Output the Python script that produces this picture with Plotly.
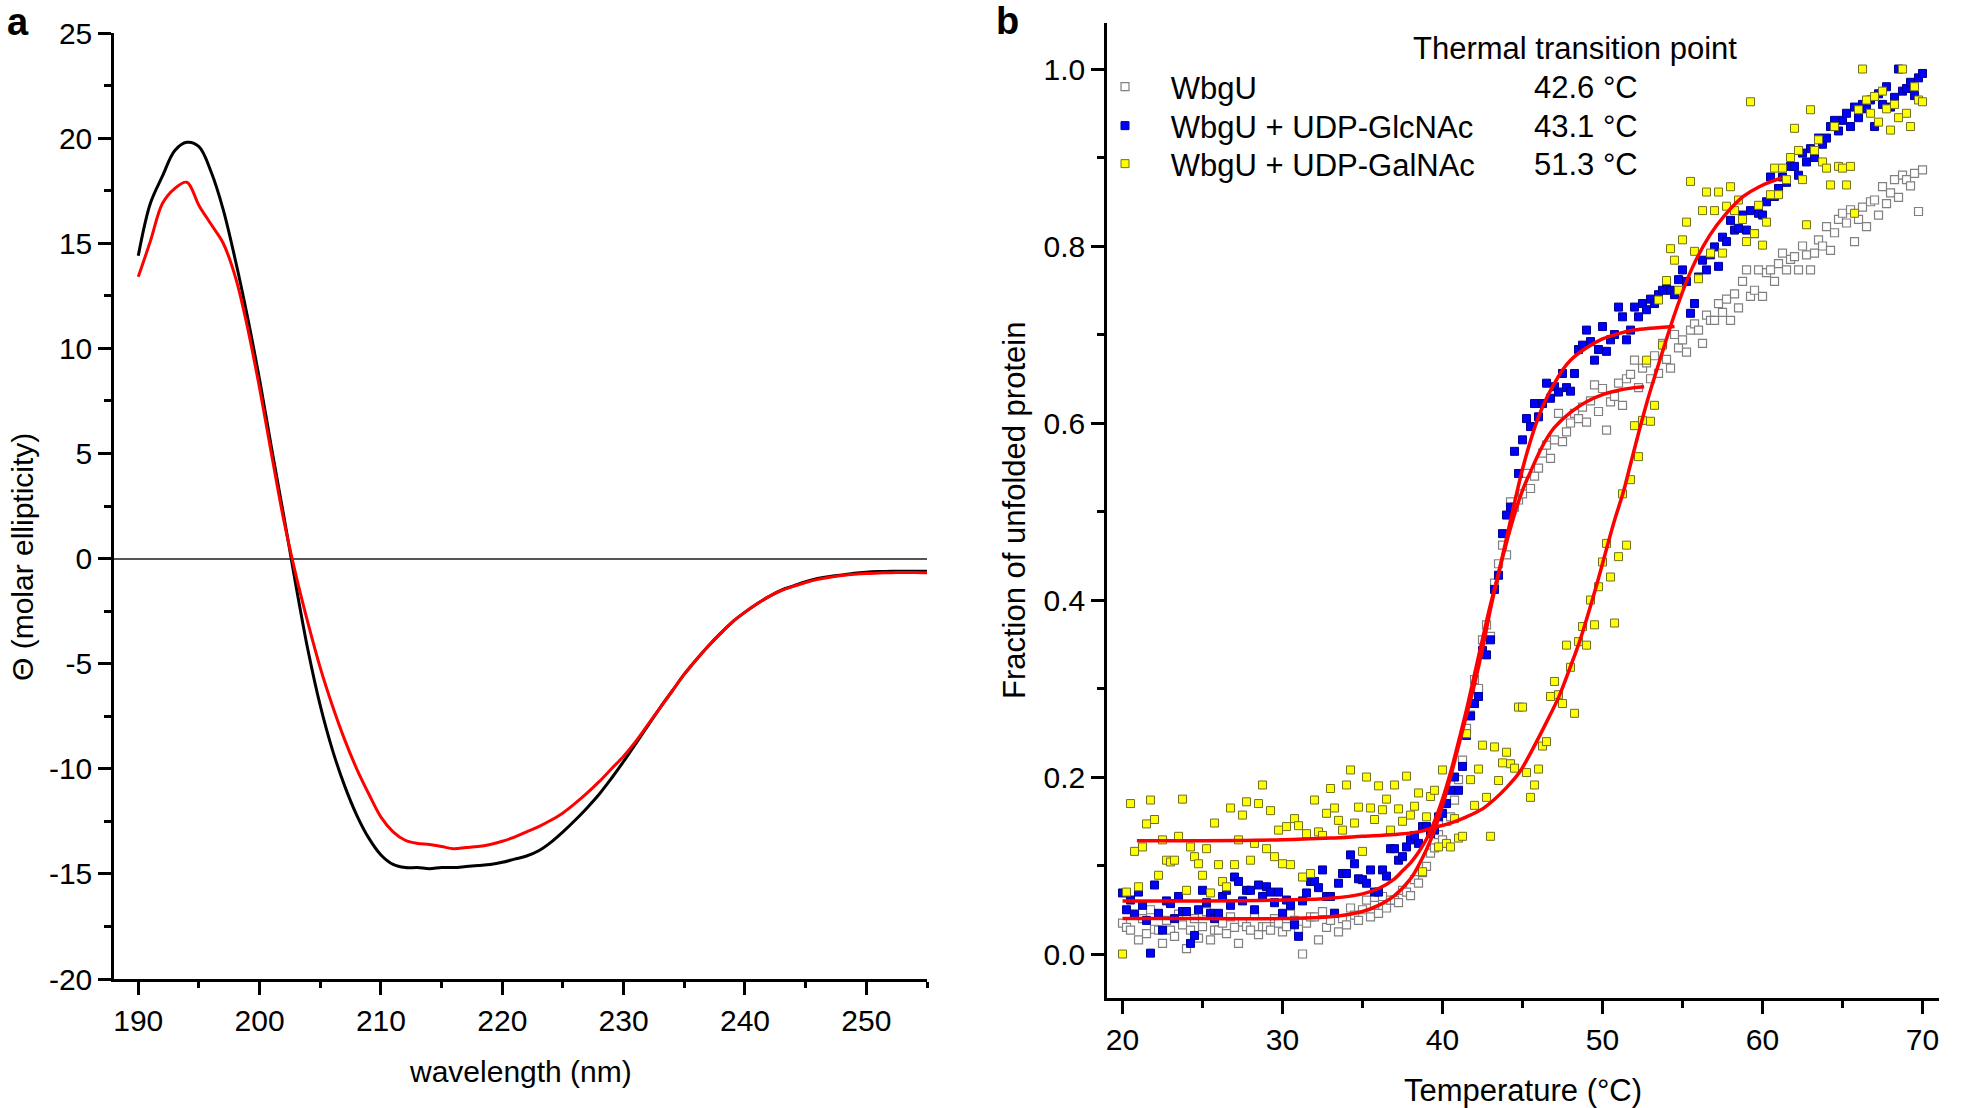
import plotly.graph_objects as go

FONT = "Liberation Sans, Arial, sans-serif"
TICKFONT = "Liberation Sans Narrow, Arial Narrow, Liberation Sans, Arial, sans-serif"
W, H = 1961, 1108

# ---------------- Panel a: CD spectra ----------------
WAVELENGTH = [190, 191, 192, 193, 194, 195, 196, 197, 198, 199,
              200, 201, 202, 203, 204, 205, 206, 207, 208, 209,
              210, 211, 212, 213, 214, 215, 216, 217, 218, 219,
              220, 221, 222, 223, 224, 225, 226, 227, 228, 229,
              230, 231, 232, 233, 234, 235, 236, 237, 238, 239,
              240, 241, 242, 243, 244, 245, 246, 247, 248, 249,
              250, 251, 252, 253, 254, 255]
CD_BLACK = [14.4, 16.9, 18.2, 19.4, 19.8, 19.6, 18.4, 16.6, 14.2, 11.5,
            8.5, 5.2, 2.0, -1.3, -4.4, -7.0, -9.1, -10.8, -12.2, -13.3,
            -14.1, -14.55, -14.7, -14.7, -14.75, -14.7, -14.7, -14.65, -14.6, -14.55,
            -14.45, -14.3, -14.15, -13.9, -13.5, -13.0, -12.45, -11.85, -11.2, -10.45,
            -9.65, -8.8, -7.95, -7.1, -6.3, -5.5, -4.8, -4.15, -3.55, -3.0,
            -2.55, -2.15, -1.8, -1.5, -1.3, -1.1, -0.95, -0.85, -0.78, -0.7,
            -0.65, -0.62, -0.6, -0.6, -0.6, -0.6]
CD_RED = [13.4, 15.1, 16.9, 17.6, 17.9, 16.8, 15.9, 15.0, 13.4, 11.0,
          8.1, 4.9, 1.8, -0.8, -3.1, -5.2, -7.0, -8.6, -10.0, -11.2,
          -12.3, -13.0, -13.4, -13.55, -13.6, -13.7, -13.8, -13.75, -13.7, -13.6,
          -13.45, -13.25, -13.0, -12.75, -12.45, -12.1, -11.65, -11.15, -10.6, -10.0,
          -9.4, -8.7, -7.9, -7.1, -6.3, -5.5, -4.8, -4.15, -3.55, -3.0,
          -2.55, -2.15, -1.8, -1.52, -1.32, -1.14, -0.99, -0.89, -0.81, -0.75,
          -0.71, -0.69, -0.67, -0.66, -0.66, -0.67]
A_YTICKS = [-20, -15, -10, -5, 0, 5, 10, 15, 20, 25]
A_YTICKTEXT = ["-20", "-15", "-10", "-5", "0", "5", "10", "15", "20", "25"]
A_YMINOR = [-17.5, -12.5, -7.5, -2.5, 2.5, 7.5, 12.5, 17.5, 22.5]
A_XTICKS = [190, 200, 210, 220, 230, 240, 250]
A_XMINOR = [195, 205, 215, 225, 235, 245, 255]

# ---------------- Panel b: thermal unfolding ----------------
TEMP = [20.0, 20.25, 20.5, 20.75, 21.0, 21.25, 21.5, 21.75, 22.0, 22.25, 22.5, 22.75,
        23.0, 23.25, 23.5, 23.75, 24.0, 24.25, 24.5, 24.75, 25.0, 25.25, 25.5, 25.75,
        26.0, 26.25, 26.5, 26.75, 27.0, 27.25, 27.5, 27.75, 28.0, 28.25, 28.5, 28.75,
        29.0, 29.25, 29.5, 29.75, 30.0, 30.25, 30.5, 30.75, 31.0, 31.25, 31.5, 31.75,
        32.0, 32.25, 32.5, 32.75, 33.0, 33.25, 33.5, 33.75, 34.0, 34.25, 34.5, 34.75,
        35.0, 35.25, 35.5, 35.75, 36.0, 36.25, 36.5, 36.75, 37.0, 37.25, 37.5, 37.75,
        38.0, 38.25, 38.5, 38.75, 39.0, 39.25, 39.5, 39.75, 40.0, 40.25, 40.5, 40.75,
        41.0, 41.25, 41.5, 41.75, 42.0, 42.25, 42.5, 42.75, 43.0, 43.25, 43.5, 43.75,
        44.0, 44.25, 44.5, 44.75, 45.0, 45.25, 45.5, 45.75, 46.0, 46.25, 46.5, 46.75,
        47.0, 47.25, 47.5, 47.75, 48.0, 48.25, 48.5, 48.75, 49.0, 49.25, 49.5, 49.75,
        50.0, 50.25, 50.5, 50.75, 51.0, 51.25, 51.5, 51.75, 52.0, 52.25, 52.5, 52.75,
        53.0, 53.25, 53.5, 53.75, 54.0, 54.25, 54.5, 54.75, 55.0, 55.25, 55.5, 55.75,
        56.0, 56.25, 56.5, 56.75, 57.0, 57.25, 57.5, 57.75, 58.0, 58.25, 58.5, 58.75,
        59.0, 59.25, 59.5, 59.75, 60.0, 60.25, 60.5, 60.75, 61.0, 61.25, 61.5, 61.75,
        62.0, 62.25, 62.5, 62.75, 63.0, 63.25, 63.5, 63.75, 64.0, 64.25, 64.5, 64.75,
        65.0, 65.25, 65.5, 65.75, 66.0, 66.25, 66.5, 66.75, 67.0, 67.25, 67.5, 67.75,
        68.0, 68.25, 68.5, 68.75, 69.0, 69.25, 69.5, 69.75, 70.0]

WBGU = [0.035, 0.030, 0.027, 0.045, 0.016, 0.040, 0.023, 0.050, 0.028, 0.027, 0.012, 0.038,
        0.027, 0.020, 0.045, 0.033, 0.006, 0.027, 0.040, 0.018, 0.031, 0.048, 0.016, 0.027,
        0.027, 0.035, 0.023, 0.042, 0.030, 0.012, 0.036, 0.031, 0.027, 0.044, 0.022, 0.031,
        0.031, 0.027, 0.040, 0.035, 0.025, 0.031, 0.045, 0.038, 0.028, 0.000, 0.035, 0.042,
        0.042, 0.016, 0.048, 0.030, 0.038, 0.046, 0.025, 0.040, 0.033, 0.052, 0.044, 0.038,
        0.050, 0.061, 0.042, 0.055, 0.046, 0.065, 0.052, 0.061, 0.061, 0.058, 0.072, 0.070,
        0.066, 0.084, 0.080, 0.092, 0.099, 0.114, 0.120, 0.135, 0.129, 0.150, 0.155, 0.174,
        0.197, 0.219, 0.255, 0.270, 0.310, 0.300, 0.355, 0.372, 0.359, 0.419, 0.441, 0.462,
        0.451, 0.511, 0.505, 0.513, 0.520, 0.543, 0.526, 0.540, 0.549, 0.566, 0.575, 0.560,
        0.581, 0.611, 0.579, 0.590, 0.600, 0.611, 0.605, 0.618, 0.601, 0.625, 0.643, 0.613,
        0.639, 0.592, 0.624, 0.630, 0.645, 0.620, 0.650, 0.655, 0.671, 0.640, 0.662, 0.668,
        0.650, 0.676, 0.656, 0.690, 0.672, 0.662, 0.700, 0.685, 0.694, 0.680, 0.705, 0.712,
        0.705, 0.690, 0.722, 0.716, 0.716, 0.735, 0.725, 0.740, 0.716, 0.746, 0.730, 0.760,
        0.773, 0.743, 0.750, 0.773, 0.743, 0.770, 0.773, 0.760, 0.780, 0.792, 0.773, 0.785,
        0.788, 0.773, 0.800, 0.790, 0.773, 0.792, 0.807, 0.800, 0.822, 0.795, 0.815, 0.830,
        0.837, 0.826, 0.841, 0.805, 0.830, 0.844, 0.822, 0.850, 0.852, 0.835, 0.867, 0.848,
        0.860, 0.875, 0.855, 0.880, 0.875, 0.868, 0.882, 0.839, 0.886]

GLCNAC = [0.069, 0.050, 0.061, 0.045, 0.070, 0.055, 0.038, 0.001, 0.078, 0.046, 0.027, 0.060,
          0.057, 0.040, 0.065, 0.048, 0.048, 0.012, 0.021, 0.050, 0.072, 0.058, 0.046, 0.040,
          0.046, 0.065, 0.072, 0.055, 0.087, 0.082, 0.060, 0.072, 0.072, 0.050, 0.078, 0.065,
          0.076, 0.070, 0.058, 0.070, 0.046, 0.061, 0.055, 0.033, 0.020, 0.060, 0.069, 0.082,
          0.082, 0.075, 0.095, 0.065, 0.065, 0.046, 0.080, 0.091, 0.091, 0.112, 0.102, 0.085,
          0.084, 0.080, 0.095, 0.070, 0.070, 0.095, 0.088, 0.119, 0.119, 0.106, 0.110, 0.121,
          0.129, 0.134, 0.125, 0.144, 0.144, 0.136, 0.140, 0.155, 0.159, 0.170, 0.185, 0.200,
          0.185, 0.212, 0.247, 0.269, 0.283, 0.291, 0.343, 0.338, 0.355, 0.412, 0.428, 0.475,
          0.496, 0.505, 0.568, 0.543, 0.581, 0.605, 0.596, 0.622, 0.607, 0.622, 0.645, 0.628,
          0.641, 0.635, 0.656, 0.640, 0.636, 0.656, 0.683, 0.688, 0.705, 0.692, 0.671, 0.683,
          0.709, 0.681, 0.694, 0.700, 0.731, 0.720, 0.694, 0.705, 0.731, 0.720, 0.735, 0.728,
          0.740, 0.735, 0.745, 0.750, 0.757, 0.750, 0.745, 0.762, 0.773, 0.760, 0.724, 0.735,
          0.765, 0.784, 0.773, 0.790, 0.799, 0.777, 0.810, 0.805, 0.829, 0.818, 0.820, 0.835,
          0.818, 0.840, 0.814, 0.837, 0.835, 0.850, 0.878, 0.856, 0.865, 0.878, 0.872, 0.890,
          0.890, 0.880, 0.905, 0.895, 0.910, 0.900, 0.922, 0.915, 0.922, 0.935, 0.942, 0.930,
          0.942, 0.950, 0.935, 0.957, 0.945, 0.960, 0.955, 0.965, 0.935, 0.972, 0.960, 0.980,
          0.957, 0.968, 1.000, 0.975, 0.978, 0.985, 0.970, 0.990, 0.995]

GALNAC = [0.000, 0.070, 0.170, 0.116, 0.076, 0.121, 0.147, 0.174, 0.152, 0.089, 0.129, 0.106,
          0.104, 0.106, 0.133, 0.175, 0.072, 0.121, 0.110, 0.102, 0.089, 0.119, 0.069, 0.148,
          0.101, 0.082, 0.076, 0.165, 0.101, 0.129, 0.157, 0.172, 0.106, 0.125, 0.170, 0.191,
          0.119, 0.162, 0.110, 0.140, 0.102, 0.144, 0.101, 0.153, 0.145, 0.087, 0.136, 0.091,
          0.174, 0.138, 0.134, 0.159, 0.187, 0.165, 0.151, 0.140, 0.191, 0.208, 0.148, 0.166,
          0.116, 0.200, 0.165, 0.152, 0.190, 0.163, 0.175, 0.140, 0.191, 0.164, 0.150, 0.201,
          0.157, 0.167, 0.182, 0.093, 0.155, 0.178, 0.185, 0.121, 0.208, 0.125, 0.121, 0.153,
          0.131, 0.133, 0.249, 0.197, 0.168, 0.209, 0.236, 0.177, 0.133, 0.234, 0.196, 0.216,
          0.228, 0.215, 0.210, 0.279, 0.279, 0.205, 0.177, 0.191, 0.209, 0.235, 0.240, 0.291,
          0.308, 0.293, 0.283, 0.349, 0.324, 0.272, 0.353, 0.370, 0.349, 0.400, 0.372, 0.415,
          0.443, 0.464, 0.426, 0.374, 0.449, 0.520, 0.462, 0.536, 0.597, 0.562, 0.603, 0.671,
          0.602, 0.620, 0.739, 0.688, 0.761, 0.797, 0.784, 0.750, 0.807, 0.827, 0.873, 0.794,
          0.763, 0.840, 0.861, 0.792, 0.840, 0.861, 0.792, 0.845, 0.867, 0.840, 0.852, 0.830,
          0.805, 0.963, 0.814, 0.846, 0.801, 0.827, 0.858, 0.888, 0.858, 0.888, 0.875, 0.900,
          0.933, 0.908, 0.875, 0.824, 0.954, 0.908, 0.920, 0.895, 0.888, 0.869, 0.935, 0.890,
          0.888, 0.869, 0.890, 0.837, 0.954, 1.000, 0.965, 0.950, 0.969, 0.940, 0.975, 0.955,
          0.931, 0.960, 0.945, 1.000, 0.950, 0.935, 0.980, 0.965, 0.963]

FIT_WBGU_T = [20, 25, 30, 33, 35, 36, 37, 38, 38.5, 39, 39.5, 40, 40.5, 41, 41.5, 42, 42.5,
              43, 43.5, 44, 44.5, 45, 45.5, 46, 46.5, 47, 48, 49, 50, 51, 52, 52.6]
FIT_WBGU_V = [0.040, 0.040, 0.040, 0.042, 0.048, 0.055, 0.066, 0.085, 0.100, 0.118, 0.140,
              0.168, 0.200, 0.235, 0.270, 0.305, 0.345, 0.390, 0.430, 0.465, 0.497, 0.524,
              0.545, 0.565, 0.582, 0.595, 0.612, 0.624, 0.632, 0.637, 0.640, 0.641]
FIT_GLC_T = [20, 25, 30, 33, 35, 36, 37, 37.5, 38, 38.5, 39, 39.5, 40, 40.5, 41, 41.5, 42,
             42.5, 43, 43.5, 44, 44.5, 45, 45.5, 46, 46.5, 47, 47.5, 48, 49, 50, 51, 52, 53, 54.5]
FIT_GLC_V = [0.060, 0.060, 0.061, 0.063, 0.068, 0.074, 0.085, 0.094, 0.103, 0.115, 0.130,
             0.150, 0.175, 0.205, 0.240, 0.276, 0.316, 0.356, 0.395, 0.430, 0.470, 0.510,
             0.548, 0.580, 0.607, 0.628, 0.645, 0.660, 0.671, 0.685, 0.695, 0.701, 0.705,
             0.707, 0.709]
FIT_GAL_T = [20.9, 25, 30, 33, 35, 37, 38.5, 39.5, 40.5, 41.5, 42.5, 43.2, 44, 44.8, 45.5,
             46.5, 47.3, 48, 48.6, 49.6, 50.7, 51.3, 51.7, 52.2, 52.8, 53.6, 54.6, 55.6,
             56.7, 57.7, 58.8, 59.8, 61.2]
FIT_GAL_V = [0.128, 0.128, 0.129, 0.131, 0.133, 0.135, 0.138, 0.143, 0.148, 0.155, 0.164,
             0.174, 0.188, 0.205, 0.227, 0.262, 0.292, 0.325, 0.355, 0.415, 0.487, 0.522,
             0.550, 0.585, 0.625, 0.672, 0.728, 0.775, 0.812, 0.836, 0.856, 0.867, 0.877]

SERIES_NAMES = ["WbgU", "WbgU + UDP-GlcNAc", "WbgU + UDP-GalNAc"]
TRANSITION = ["42.6 °C", "43.1 °C", "51.3 °C"]
B_XTICKS = [20, 30, 40, 50, 60, 70]
B_XMINOR = [25, 35, 45, 55, 65]
B_YTICKS = [0.0, 0.2, 0.4, 0.6, 0.8, 1.0]
B_YTICKTEXT = ["0.0", "0.2", "0.4", "0.6", "0.8", "1.0"]
B_YMINOR = [0.1, 0.3, 0.5, 0.7, 0.9]


def px_x(p):
    return p / W


def px_y(p):
    return 1 - p / H


fig = go.Figure()

# Panel a traces
fig.add_trace(go.Scatter(x=WAVELENGTH, y=CD_BLACK, mode="lines", line=dict(color="#000000", width=3, shape="spline"),
                         xaxis="x", yaxis="y", showlegend=False, hoverinfo="skip"))
fig.add_trace(go.Scatter(x=WAVELENGTH, y=CD_RED, mode="lines", line=dict(color="#ff0000", width=3, shape="spline"),
                         xaxis="x", yaxis="y", showlegend=False, hoverinfo="skip"))

# Panel b scatter
styles = [
    dict(color="#ffffff", line=dict(color="#808080", width=1.2)),
    dict(color="#0000ff", line=dict(color="#000090", width=1)),
    dict(color="#ffff00", line=dict(color="#6f6f20", width=1)),
]
series = [WBGU, GLCNAC, GALNAC]
legends = ["legend", "legend2", "legend3"]
for name, vals, st, lg in zip(SERIES_NAMES, series, styles, legends):
    fig.add_trace(go.Scatter(x=TEMP, y=vals, mode="markers", name="\u00a0\u00a0\u00a0" + name,
                             marker=dict(symbol="square", size=8, **st),
                             xaxis="x2", yaxis="y2", legend=lg, showlegend=True))

for ft, fv in [(FIT_WBGU_T, FIT_WBGU_V), (FIT_GLC_T, FIT_GLC_V), (FIT_GAL_T, FIT_GAL_V)]:
    fig.add_trace(go.Scatter(x=ft, y=fv, mode="lines", line=dict(color="#ff0000", width=3.5, shape="spline"),
                             xaxis="x2", yaxis="y2", showlegend=False, hoverinfo="skip"))

axis_common = dict(showline=True, linecolor="#000000", linewidth=2.5, ticks="outside", ticklen=13,
                   tickwidth=2.5, tickcolor="#000000", showgrid=False, automargin=False,
                   tickfont=dict(family=TICKFONT, size=30, color="#000000"))

ROW_Y = [87, 126, 164]
legend_common = dict(xanchor="left", yanchor="middle", bgcolor="rgba(0,0,0,0)", borderwidth=0,
                     font=dict(family=FONT, size=31, color="#000000"), itemsizing="trace")

fig.update_layout(
    width=W, height=H, autosize=False,
    margin=dict(l=0, r=0, t=0, b=0, autoexpand=False),
    paper_bgcolor="#ffffff", plot_bgcolor="#ffffff",
    font=dict(family=FONT, color="#000000"),
    xaxis=dict(domain=[px_x(114), px_x(927)], range=[188, 255], anchor="y",
               tickmode="array", tickvals=A_XTICKS, zeroline=False,
               minor=dict(tickmode="array", tickvals=A_XMINOR, ticklen=6, tickwidth=2.5, tickcolor="#000000", ticks="outside"),
               **axis_common),
    yaxis=dict(domain=[px_y(979), px_y(33)], range=[-20, 25], anchor="x",
               tickmode="array", tickvals=A_YTICKS, ticktext=A_YTICKTEXT,
               zeroline=True, zerolinecolor="#555555", zerolinewidth=2,
               minor=dict(tickmode="array", tickvals=A_YMINOR, ticklen=7, tickwidth=2.5, tickcolor="#000000", ticks="outside"),
               **axis_common),
    xaxis2=dict(domain=[px_x(1107), px_x(1939)], range=[19.03, 71.03], anchor="y2",
                tickmode="array", tickvals=B_XTICKS, zeroline=False,
                minor=dict(tickmode="array", tickvals=B_XMINOR, ticklen=7, tickwidth=2.5, tickcolor="#000000", ticks="outside"),
                **axis_common),
    yaxis2=dict(domain=[px_y(998), px_y(23)], range=[-0.0497, 1.052], anchor="x2",
                tickmode="array", tickvals=B_YTICKS, ticktext=B_YTICKTEXT, zeroline=False,
                minor=dict(tickmode="array", tickvals=B_YMINOR, ticklen=7, tickwidth=2.5, tickcolor="#000000", ticks="outside"),
                **axis_common),
    legend=dict(x=px_x(1105), y=px_y(ROW_Y[0]), **legend_common),
    legend2=dict(x=px_x(1105), y=px_y(ROW_Y[1]), **legend_common),
    legend3=dict(x=px_x(1105), y=px_y(ROW_Y[2]), **legend_common),
)

ann = []
# panel labels
ann.append(dict(text="<b>a</b>", x=px_x(18), y=px_y(22), xref="paper", yref="paper",
                xanchor="center", yanchor="middle", showarrow=False, font=dict(family=FONT, size=38)))
ann.append(dict(text="<b>b</b>", x=px_x(1008), y=px_y(21), xref="paper", yref="paper",
                xanchor="center", yanchor="middle", showarrow=False, font=dict(family=FONT, size=38)))
# axis titles
ann.append(dict(text="wavelength (nm)", x=px_x(520), y=px_y(1071), xref="paper", yref="paper",
                xanchor="center", yanchor="middle", showarrow=False, font=dict(family=FONT, size=30)))
ann.append(dict(text="Θ (molar ellipticity)", x=px_x(22), y=px_y(557), xref="paper", yref="paper",
                xanchor="center", yanchor="middle", textangle=-90, showarrow=False, font=dict(family=FONT, size=30)))
ann.append(dict(text="Temperature (°C)", x=px_x(1523), y=px_y(1090), xref="paper", yref="paper",
                xanchor="center", yanchor="middle", showarrow=False, font=dict(family=FONT, size=31)))
ann.append(dict(text="Fraction of unfolded protein", x=px_x(1014), y=px_y(510), xref="paper", yref="paper",
                xanchor="center", yanchor="middle", textangle=-90, showarrow=False, font=dict(family=FONT, size=31)))
# legend title + transition values
ann.append(dict(text="Thermal transition point", x=px_x(1411), y=px_y(49), xref="paper", yref="paper",
                xanchor="left", yanchor="middle", showarrow=False, font=dict(family=FONT, size=31)))
for txt, ry in zip(TRANSITION, ROW_Y):
    ann.append(dict(text=txt, x=px_x(1532), y=px_y(ry), xref="paper", yref="paper",
                    xanchor="left", yanchor="middle", showarrow=False, font=dict(family=FONT, size=31)))
fig.update_layout(annotations=ann)

fig.write_html("out.html", include_plotlyjs=True, full_html=True,
               config={"displayModeBar": False},
               post_script="document.body.style.margin='0';document.body.style.overflow='hidden';")
